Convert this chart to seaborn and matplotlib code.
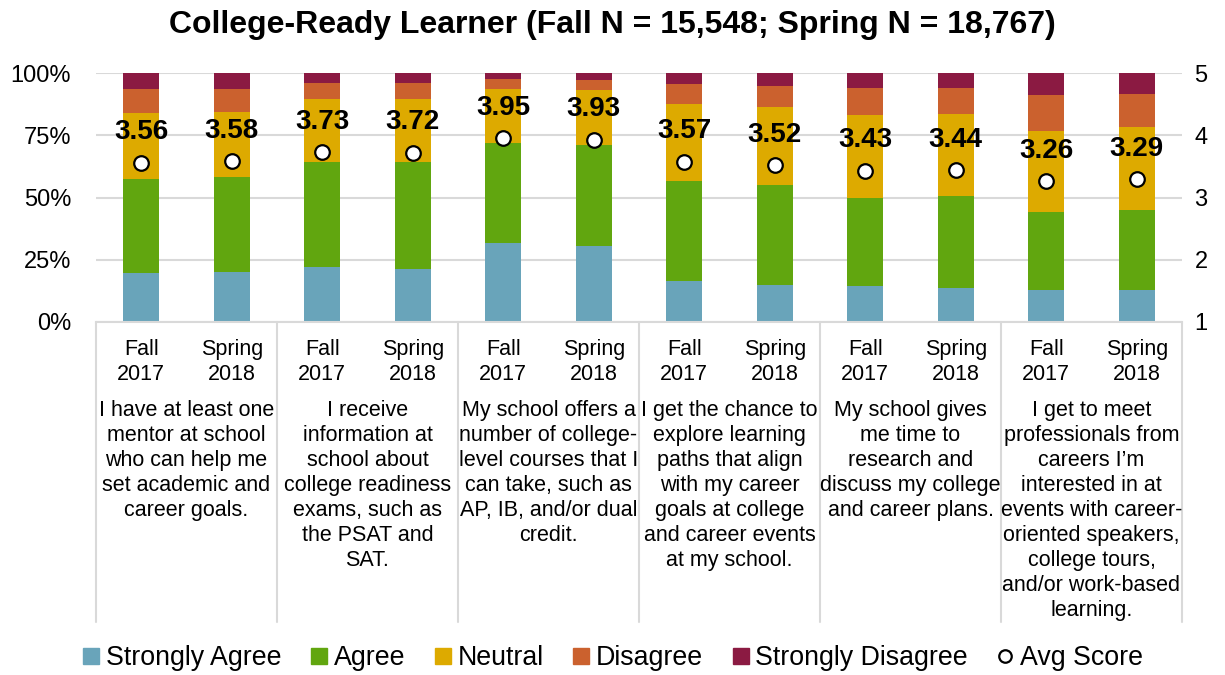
import numpy as np
import seaborn as sns
import matplotlib.pyplot as plt
import matplotlib.transforms as mtransforms
from matplotlib.lines import Line2D

# Data (percent of responses)
periods = ['Fall\n2017', 'Spring\n2018'] * 6
strongly_agree = [19.7, 20.0, 21.9, 21.1, 31.6, 30.5, 16.4, 15.0, 14.3, 13.8, 13.0, 12.8]
agree = [37.6, 38.4, 42.5, 43.3, 40.2, 40.6, 40.4, 40.0, 35.6, 36.9, 31.0, 32.2]
neutral = [26.6, 26.1, 25.1, 25.1, 21.9, 21.9, 30.8, 31.2, 33.3, 32.9, 32.9, 33.5]
disagree = [9.8, 9.2, 6.6, 6.6, 3.9, 4.0, 8.0, 8.4, 10.8, 10.5, 14.4, 13.2]
strongly_disagree = [6.3, 6.3, 3.9, 3.9, 2.4, 3.0, 4.4, 5.4, 6.0, 5.9, 8.7, 8.3]
avg_score = [3.56, 3.58, 3.73, 3.72, 3.95, 3.93, 3.57, 3.52, 3.43, 3.44, 3.26, 3.29]
statements = [
    'I have at least one\nmentor at school\nwho can help me\nset academic and\ncareer goals.',
    'I receive\ninformation at\nschool about\ncollege readiness\nexams, such as\nthe PSAT and\nSAT.',
    'My school offers a\nnumber of college-\nlevel courses that I\ncan take, such as\nAP, IB, and/or dual\ncredit.',
    'I get the chance to\nexplore learning\npaths that align\nwith my career\ngoals at college\nand career events\nat my school.',
    'My school gives\nme time to\nresearch and\ndiscuss my college\nand career plans.',
    'I get to meet\nprofessionals from\ncareers I\u2019m\ninterested in at\nevents with career-\noriented speakers,\ncollege tours,\nand/or work-based\nlearning.',
]
levels = ['Strongly Agree', 'Agree', 'Neutral', 'Disagree', 'Strongly Disagree']
colors = ['#69A4BA', '#61A60F', '#DDAA00', '#CB612E', '#8B1A42']

sns.set_style('white')
plt.rcParams['font.family'] = ['Liberation Sans', 'DejaVu Sans']
plt.rcParams['text.color'] = 'black'
plt.rcParams['ytick.color'] = 'black'
plt.rcParams['xtick.color'] = 'black'

fig = plt.figure(figsize=(12.25, 6.75), dpi=100)
ax = fig.add_axes([96 / 1225, 1 - 322 / 675, (1182 - 96) / 1225, (322 - 73) / 675])

x = np.arange(len(periods))
stack = np.array([strongly_agree, agree, neutral, disagree, strongly_disagree])
cum = np.cumsum(stack, axis=0)

# draw cumulative totals from the top down so each layer shows its own segment
for i in range(len(levels) - 1, -1, -1):
    sns.barplot(x=x, y=cum[i], color=colors[i], width=0.4, saturation=1,
                linewidth=0, ax=ax, zorder=2)

ax.set_ylim(0, 100)
ax.set_xlim(-0.5, len(periods) - 0.5)
ax.set_yticks([0, 25, 50, 75, 100])
ax.set_yticklabels(['0%', '25%', '50%', '75%', '100%'])
ax.tick_params(axis='y', labelsize=17, length=0, pad=18)
ax.yaxis.grid(True, color='#D9D9D9', linewidth=1.5, zorder=0)
ax.set_axisbelow(True)
for s in ['left', 'right', 'top']:
    ax.spines[s].set_visible(False)
ax.spines['bottom'].set_color('#D9D9D9')
ax.spines['bottom'].set_linewidth(1.5)
ax.set_xticks(x)
ax.set_xticklabels([])
ax.tick_params(axis='x', length=0)
ax.set_xlabel('')
ax.set_ylabel('')

trans = mtransforms.blended_transform_factory(ax.transData, ax.transAxes)
for i, p in enumerate(periods):
    ax.text(i, -0.07, p, transform=trans, ha='center', va='top', fontsize=15.5,
            linespacing=1.22)
for g, s in enumerate(statements):
    ax.text(2 * g + 0.5, -0.315, s, transform=trans, ha='center', va='top',
            fontsize=15.5, linespacing=1.25)
for k in range(7):
    ax.plot([2 * k - 0.5, 2 * k - 0.5], [0, -1.205], transform=trans,
            color='#D9D9D9', linewidth=1.5, clip_on=False)

# average score on secondary axis
ax2 = ax.twinx()
sns.scatterplot(x=x, y=avg_score, ax=ax2, s=110, color='white',
                edgecolor='black', linewidth=1.6, zorder=5)
ax2.set_ylim(1, 5)
ax2.set_yticks([1, 2, 3, 4, 5])
ax2.tick_params(axis='y', labelsize=17, length=0, pad=9)
for s in ax2.spines.values():
    s.set_visible(False)
ax2.set_xlim(-0.5, len(periods) - 0.5)
for xi, v in zip(x, avg_score):
    ax2.annotate(f'{v:.2f}', (xi, v), xytext=(0, 22), textcoords='offset points',
                 ha='center', va='center', fontsize=20, fontweight='bold')

fig.suptitle('College-Ready Learner (Fall N = 15,548; Spring N = 18,767)',
             fontsize=23, fontweight='bold', y=1 - 25 / 675, va='center')

handles = [Line2D([], [], marker='s', linestyle='none', markersize=11,
                  markerfacecolor=c, markeredgecolor=c) for c in colors]
handles.append(Line2D([], [], marker='o', linestyle='none', markersize=9,
                      markerfacecolor='white', markeredgecolor='black',
                      markeredgewidth=1.6))
fig.legend(handles, levels + ['Avg Score'], loc='center', ncol=6,
           bbox_to_anchor=(0.5, 1 - 658 / 675), frameon=False, fontsize=19.3,
           handlelength=0.7, handletextpad=0.2, columnspacing=1.05)

fig.savefig('out.png', dpi=100)
